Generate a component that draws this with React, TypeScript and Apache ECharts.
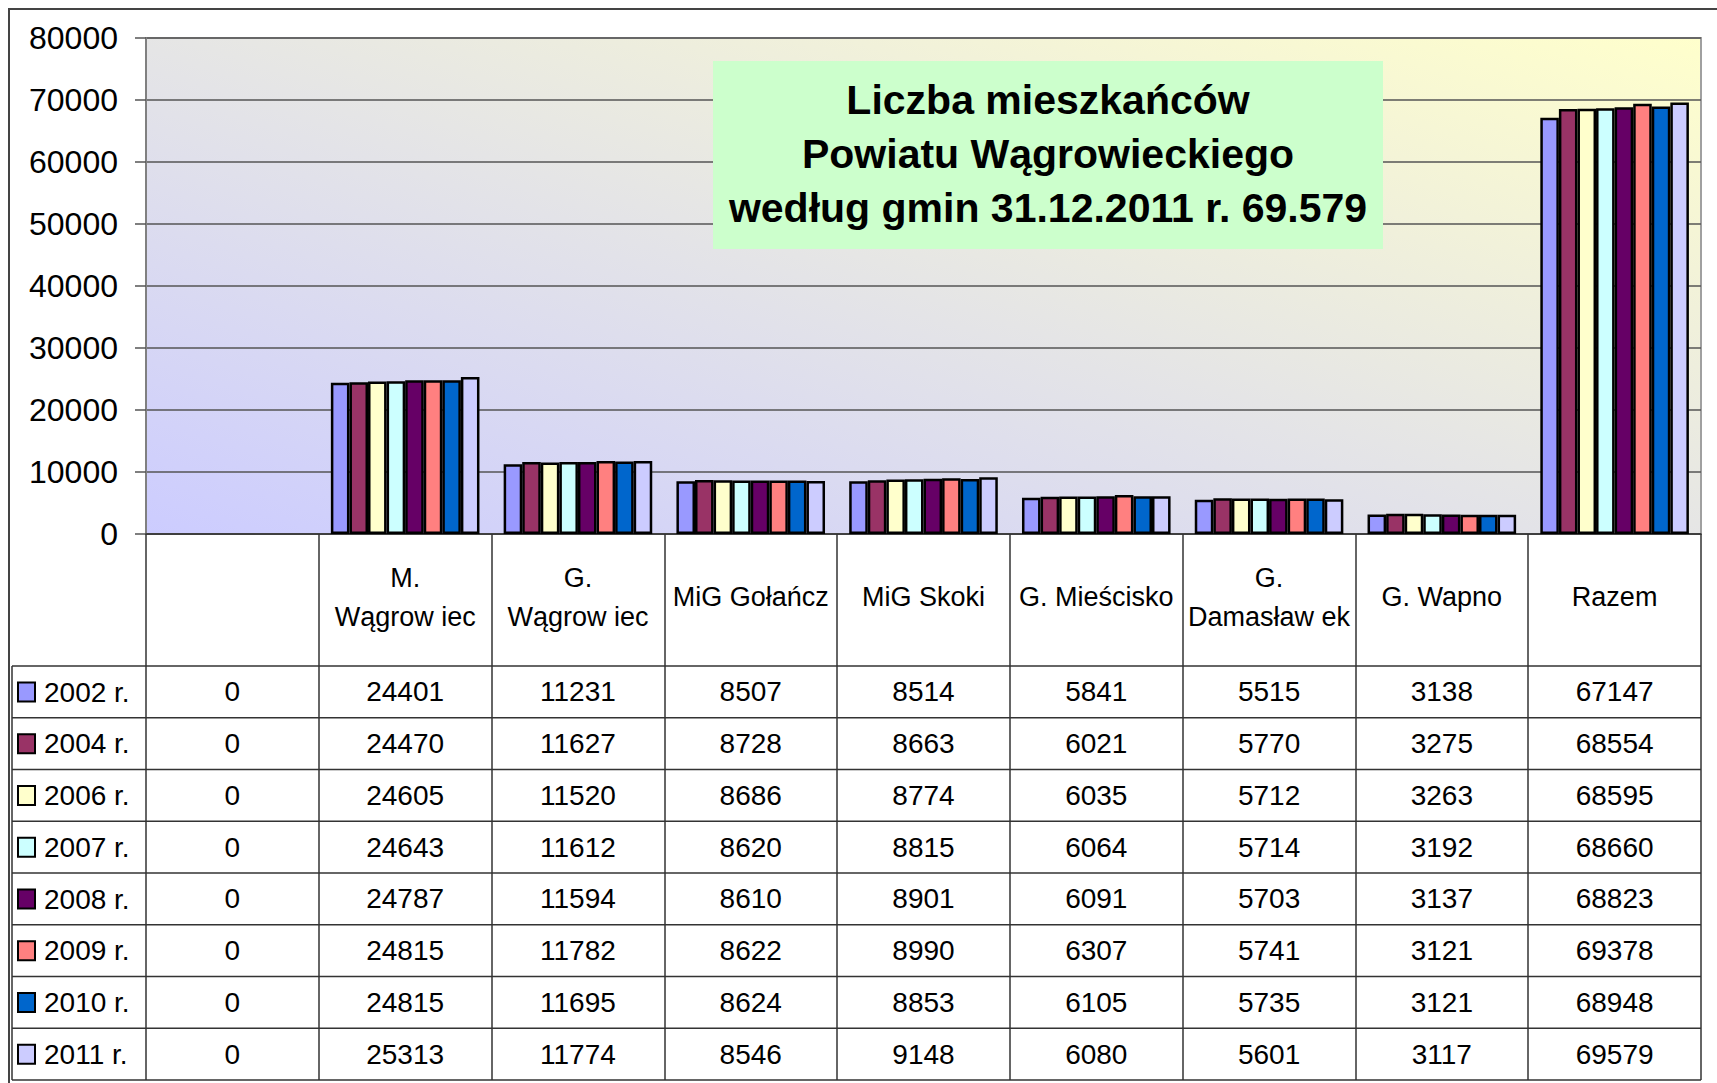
import React, { useEffect, useRef } from 'react';
import * as echarts from 'echarts';

const categories = ['', 'M.\nWągrow iec', 'G.\nWągrow iec', 'MiG Gołańcz', 'MiG Skoki', 'G. Mieścisko', 'G.\nDamasław ek', 'G. Wapno', 'Razem'];
const years = ['2002 r.', '2004 r.', '2006 r.', '2007 r.', '2008 r.', '2009 r.', '2010 r.', '2011 r.'];
const v2002 = [0, 24401, 11231, 8507, 8514, 5841, 5515, 3138, 67147];
const v2004 = [0, 24470, 11627, 8728, 8663, 6021, 5770, 3275, 68554];
const v2006 = [0, 24605, 11520, 8686, 8774, 6035, 5712, 3263, 68595];
const v2007 = [0, 24643, 11612, 8620, 8815, 6064, 5714, 3192, 68660];
const v2008 = [0, 24787, 11594, 8610, 8901, 6091, 5703, 3137, 68823];
const v2009 = [0, 24815, 11782, 8622, 8990, 6307, 5741, 3121, 69378];
const v2010 = [0, 24815, 11695, 8624, 8853, 6105, 5735, 3121, 68948];
const v2011 = [0, 25313, 11774, 8546, 9148, 6080, 5601, 3117, 69579];
const seriesValues = [v2002, v2004, v2006, v2007, v2008, v2009, v2010, v2011];
const yMin = 0;
const yMax = 80000;
const yStep = 10000;
const colors = ['#9999FF', '#993366', '#FFFFCC', '#CCFFFF', '#660066', '#FF8080', '#0066CC', '#CCCCFF'];
const titleLines = ['Liczba mieszkańców', 'Powiatu Wągrowieckiego', 'według gmin 31.12.2011 r. 69.579'];

const W = 1717;
const H = 1083;
const GL = 146;
const GT = 38;
const GR = 1701;
const GB = 534;
const ROW0 = 666;
const ROWH = 51.75;
const TL = 12;
const FONT = '"Liberation Sans", Arial, sans-serif';

export default function App() {
  const ref = useRef<HTMLDivElement>(null);
  useEffect(() => {
    if (!ref.current) return;
    const chart = echarts.init(ref.current, undefined, { renderer: 'svg' });
    const tableBottom = ROW0 + ROWH * years.length;

    const xAxes: any[] = [
      {
        type: 'category',
        data: categories,
        position: 'bottom',
        axisLine: { show: true, lineStyle: { color: '#333', width: 1.5 } },
        axisTick: { show: true, interval: 0, length: tableBottom - GB, lineStyle: { color: '#333', width: 1.5 } },
        axisLabel: { interval: 0, fontSize: 27, lineHeight: 39, margin: 63, verticalAlign: 'middle', color: '#000', fontFamily: FONT },
        splitLine: { show: false },
      },
    ];
    seriesValues.forEach((vals, k) => {
      xAxes.push({
        type: 'category',
        data: categories,
        position: 'bottom',
        offset: ROW0 - GB + ROWH * k,
        axisLine: { show: false },
        axisTick: { show: false },
        splitLine: { show: false },
        axisLabel: {
          interval: 0,
          fontSize: 28,
          margin: ROWH / 2,
          verticalAlign: 'middle',
          color: '#000',
          fontFamily: FONT,
          formatter: (_v: string, i: number) => String(vals[i]),
        },
      });
    });

    const graphics: any[] = [
      {
        type: 'rect',
        shape: { x: 9, y: 9, width: W + 40, height: H + 40 },
        style: { fill: 'none', stroke: '#444', lineWidth: 2 },
        z: 1,
      },
      {
        type: 'line',
        shape: { x1: TL, y1: ROW0, x2: TL, y2: tableBottom },
        style: { stroke: '#333', lineWidth: 1.5 },
        z: 5,
      },
      {
        type: 'rect',
        shape: { x: 713, y: 61, width: 670, height: 188 },
        style: { fill: '#CCFFCC' },
        z: 10,
      },
      {
        type: 'text',
        x: 1048,
        y: 154,
        style: {
          text: titleLines.join('\n'),
          fontFamily: FONT,
          fontWeight: 'bold',
          fontSize: 41,
          lineHeight: 54,
          fill: '#000',
          align: 'center',
          verticalAlign: 'middle',
        },
        z: 11,
      },
    ];
    for (let k = 0; k <= years.length; k++) {
      const y = ROW0 + ROWH * k;
      graphics.push({
        type: 'line',
        shape: { x1: TL, y1: y, x2: GR, y2: y },
        style: { stroke: '#333', lineWidth: 1.5 },
        z: 5,
      });
    }

    chart.setOption({
      animation: false,
      textStyle: { fontFamily: FONT },
      grid: {
        left: GL,
        top: GT,
        right: W - GR,
        bottom: H - GB,
        show: true,
        backgroundColor: new echarts.graphic.LinearGradient(0, 1, 1, 0, [
          { offset: 0, color: '#CCCCFF' },
          { offset: 1, color: '#FFFFCC' },
        ]),
        borderColor: '#A0A0A0',
        borderWidth: 2,
      },
      legend: {
        data: years,
        orient: 'vertical',
        left: 17,
        top: ROW0 + 12,
        padding: 0,
        itemWidth: 17,
        itemHeight: 19,
        itemGap: ROWH - 28,
        icon: 'rect',
        itemStyle: { borderColor: '#000', borderWidth: 2 },
        textStyle: { fontSize: 28, color: '#000', fontFamily: FONT, lineHeight: 28, padding: [0, 0, 0, 4] },
        selectedMode: false,
      },
      xAxis: xAxes,
      yAxis: {
        type: 'value',
        min: yMin,
        max: yMax,
        interval: yStep,
        axisLine: { show: true, lineStyle: { color: '#808080', width: 2 } },
        axisTick: { show: true, length: 11, lineStyle: { color: '#555', width: 1.5 } },
        axisLabel: { fontSize: 32, margin: 28, color: '#000', fontFamily: FONT, formatter: (v: number) => String(v) },
        splitLine: { show: true, lineStyle: { color: '#555', width: 1.5 } },
      },
      series: seriesValues.map((vals, k) => ({
        type: 'bar',
        name: years[k],
        data: vals.map((v) => (v === 0 ? { value: v, itemStyle: { borderWidth: 0 } } : v)),
        xAxisIndex: 0,
        barGap: '0%',
        barCategoryGap: '14%',
        itemStyle: { color: colors[k], borderColor: '#000', borderWidth: 2.5 },
      })),
      graphic: graphics,
    });
    return () => chart.dispose();
  }, []);
  return <div ref={ref} style={{ position: 'absolute', left: 0, top: 0, width: W, height: H, background: '#fff' }} />;
}
